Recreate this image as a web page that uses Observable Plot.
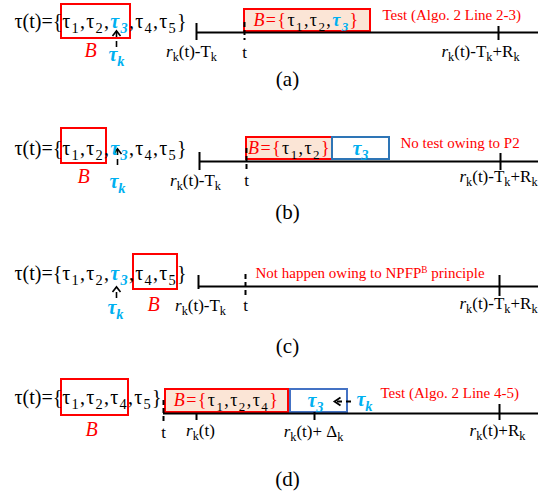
<!DOCTYPE html>
<html><head><meta charset="utf-8">
<script src="https://cdn.jsdelivr.net/npm/d3@7"></script>
<script src="https://cdn.jsdelivr.net/npm/@observablehq/plot@0.6"></script>
<style>body{margin:0;background:#fff}</style>
</head><body><div id="chart"></div>
<script>
// ---- content (markup: _x subscript, ^x superscript, [[style:...]] styled run)
const panelLabels = ["(a)", "(b)", "(c)", "(d)"];
const taskSets = [
  "τ(t)={[[sp:τ_1,τ_2,[[blue:τ_3]],τ_4,τ_5}]]",
  "τ(t)={[[sp:τ_1,τ_2,[[blue:τ_3]],τ_4,τ_5}]]",
  "τ(t)={[[sp:τ_1,τ_2,[[blue:τ_3]],τ_4,τ_5}]]",
  "τ(t)={[[sp:τ_1,τ_2,τ_4,τ_5}]]"
];
const batchSets = [
  "[[sp2:[[redi:B]][[red:={]]τ_1,τ_2,[[blue:τ_3]][[red:}]]]]",
  "[[sp2:[[redi:B]][[red:={]]τ_1,τ_2[[red:}]]]]",
  "[[sp2:[[redi:B]][[red:={]]τ_1,τ_2,τ_4[[red:}]]]]"
];
const notes = [
  "Test (Algo. 2 Line 2-3)",
  "No test owing to P2",
  "Not happen owing to NPFP^B principle",
  "Test (Algo. 2 Line 4-5)"
];
const timeLabels = [
  ["[[i:r]]_k(t)-T_k", "t", "[[i:r]]_k(t)-T_k+R_k"],
  ["[[i:r]]_k(t)-T_k", "t", "[[i:r]]_k(t)-T_k+R_k"],
  ["[[i:r]]_k(t)-T_k", "t", "[[i:r]]_k(t)-T_k+R_k"],
  ["t", "[[i:r]]_k(t)", "[[i:r]]_k(t)+ Δ_k", "[[i:r]]_k(t)+R_k"]
];
const setLabel = "[[redi:B]]";
const taskLabel = "[[blue:τ_k]]";
const waitingTask = "[[blue:τ_3]]";

// ---- layout (diagram units = pixels of the 549×498 figure)
const eqPos = [[14, 21], [14, 148], [14, 273], [14, 397]];
const eqBoxes = [[61, 130, 4, 38], [61, 106, 128, 163], [133, 177, 254, 289], [61, 128, 379, 415]];
const setLabelPos = [[90, 50], [83, 176], [153, 304], [91, 429]];
const timelines = [[196, 538, 32], [199, 538, 161], [198, 538, 286], [163, 538, 413]];
const solidTicks = [[196, 23, 40], [498, 26, 40], [199, 152, 170], [500, 153, 170],
  [198, 275, 289], [499, 275, 296], [196, 413, 420], [314, 412, 420], [499, 404, 420]];
const dashedTicks = [[244, 22, 40], [246, 148, 170], [245, 274, 297], [163, 400, 421]];
const timeLabelPos = [
  [[191, 51], [244, 52], [480, 51]],
  [[195, 180], [246, 180], [498, 176]],
  [[200, 305], [245, 305], [498, 303]],
  [[163, 432], [200, 430], [313, 431], [497, 430]]
];
const batchBoxes = [[244, 370, 9, 31], [246, 332, 137, 159], [165, 288, 389, 412]];
const batchTextPos = [[306, 20], [289, 148], [226, 400]];
const waitBoxes = [[332, 389, 137, 159, "#2e75b6"], [290, 347, 389, 412, "#4472c4"]];
const waitTextPos = [[360, 148], [315, 400]];
const notePos = [[382, 15], [400, 143], [255, 273], [380, 393]];
const panelLabelPos = [[287, 79], [287, 212], [287, 346], [287, 479]];
const upArrows = [[116, 47, 31], [117, 165, 149], [116, 298, 287]];
const taskLabelPos = [[116, 54], [117, 181], [115, 307], [364, 399]];
const leftArrow = [[351, 336, 401]];

const SERIF = "'Liberation Serif', 'Times New Roman', serif";
const RED = "#ff0000", SALMON = "#fbe5d6";

const rows = (labels, pos) => labels.map((t, i) => ({t, x: pos[i][0], y: pos[i][1]}));
const eqRows = rows(taskSets, eqPos);
const tlRows = timeLabels.flatMap((ls, p) => rows(ls, timeLabelPos[p]));
const boxRows = (bs) => bs.map(([x1, x2, y1, y2, c]) => ({x1, x2, y1, y2, c}));

const chevronUp = {draw(ctx, size) { const r = Math.sqrt(size / Math.PI);
  ctx.moveTo(-r, r * 0.65); ctx.lineTo(0, -r * 0.65); ctx.lineTo(r, r * 0.65); }};
const chevronLeft = {draw(ctx, size) { const r = Math.sqrt(size / Math.PI);
  ctx.moveTo(r * 0.75, -r); ctx.lineTo(-r * 0.75, 0); ctx.lineTo(r * 0.75, r); }};

const svg = Plot.plot({
  width: 549, height: 498, margin: 0,
  x: {domain: [0, 549], range: [0, 549], axis: null},
  y: {domain: [0, 498], range: [0, 498], axis: null},
  style: {background: "#fff", overflow: "visible"},
  marks: [
    Plot.rect(boxRows(batchBoxes), {x1: "x1", x2: "x2", y1: "y1", y2: "y2", fill: SALMON, stroke: RED, strokeWidth: 2}),
    Plot.rect(boxRows(waitBoxes), {x1: "x1", x2: "x2", y1: "y1", y2: "y2", fill: "#fff", stroke: d => d.c, strokeWidth: 2}),
    Plot.ruleY(timelines, {x1: d => d[0], x2: d => d[1], y: d => d[2], stroke: "#000", strokeWidth: 2}),
    Plot.ruleX(solidTicks, {x: d => d[0], y1: d => d[1], y2: d => d[2], stroke: "#000", strokeWidth: 2}),
    Plot.ruleX(dashedTicks, {x: d => d[0], y1: d => d[1], y2: d => d[2], stroke: "#000", strokeWidth: 2, strokeDasharray: "5,3"}),
    Plot.rect(boxRows(eqBoxes), {x1: "x1", x2: "x2", y1: "y1", y2: "y2", fill: "none", stroke: RED, strokeWidth: 2}),
    Plot.ruleX(upArrows, {x: d => d[0], y1: d => d[1], y2: d => d[2], stroke: "#000", strokeWidth: 1.6, strokeDasharray: "6,4"}),
    Plot.dot(upArrows, {x: d => d[0], y: d => d[2] + 2, r: 4, symbol: chevronUp, stroke: "#000", strokeWidth: 1.6, fill: "none"}),
    Plot.ruleY(leftArrow, {x1: d => d[0], x2: d => d[1], y: d => d[2], stroke: "#000", strokeWidth: 1.8, strokeDasharray: "5,4"}),
    Plot.dot(leftArrow, {x: d => d[1] + 1, y: d => d[2], r: 4, symbol: chevronLeft, stroke: "#000", strokeWidth: 1.8, fill: "none"}),
    Plot.text(eqRows, {x: "x", y: "y", text: "t", textAnchor: "start", fontSize: 20, fontFamily: SERIF, fill: "#000"}),
    Plot.text(rows(batchSets, batchTextPos), {x: "x", y: "y", text: "t", fontSize: 18, fontFamily: SERIF, fill: "#000"}),
    Plot.text(rows([waitingTask, waitingTask], waitTextPos), {x: "x", y: "y", text: "t", fontSize: 20, fontFamily: SERIF}),
    Plot.text(tlRows, {x: "x", y: "y", text: "t", fontSize: 17, fontFamily: SERIF, fill: "#000"}),
    Plot.text(rows(notes, notePos), {x: "x", y: "y", text: "t", textAnchor: "start", fontSize: 15, fontFamily: SERIF, fill: RED}),
    Plot.text(setLabelPos.map(([x, y]) => ({t: setLabel, x, y})), {x: "x", y: "y", text: "t", fontSize: 20, fontFamily: SERIF}),
    Plot.text(taskLabelPos.map(([x, y]) => ({t: taskLabel, x, y})), {x: "x", y: "y", text: "t", fontSize: 20, fontFamily: SERIF}),
    Plot.text(rows(panelLabels, panelLabelPos), {x: "x", y: "y", text: "t", fontSize: 21, fontFamily: SERIF, fill: "#000"})
  ]
});
document.getElementById("chart").appendChild(svg);

// ---- rich text: subscripts, superscripts, coloured runs
const styles = {
  blue: {fill: "#00b0f0", "font-weight": "bold", "font-style": "italic"},
  red: {fill: RED},
  redi: {fill: RED, "font-style": "italic"},
  i: {"font-style": "italic"},
  sp: {"letter-spacing": "1.25"},
  sp2: {"letter-spacing": "1.4"}
};
function parse(raw) {
  const out = [], stack = [];
  let i = 0, buf = "";
  const cur = () => Object.assign({}, ...stack.map(n => styles[n]));
  const flush = () => { if (buf) { out.push({t: buf, st: cur(), pos: null}); buf = ""; } };
  while (i < raw.length) {
    if (raw.startsWith("[[", i)) { flush(); const j = raw.indexOf(":", i); stack.push(raw.slice(i + 2, j)); i = j + 1; }
    else if (raw.startsWith("]]", i)) { flush(); stack.pop(); i += 2; }
    else if (raw[i] === "_" || raw[i] === "^") { flush(); out.push({t: raw[i + 1], st: cur(), pos: raw[i] === "_" ? "sub" : "sup"}); i += 2; }
    else { buf += raw[i]; i++; }
  }
  flush();
  return out;
}
const NS = "http://www.w3.org/2000/svg";
svg.querySelectorAll("text").forEach(el => {
  const raw = el.textContent;
  if (!/[_^]|\[\[/.test(raw)) return;
  const fs = parseFloat(getComputedStyle(el).fontSize) || 16;
  while (el.firstChild) el.removeChild(el.firstChild);
  let shift = 0;
  for (const seg of parse(raw)) {
    const ts = document.createElementNS(NS, "tspan");
    const target = seg.pos === "sub" ? 0.26 * fs : seg.pos === "sup" ? -0.36 * fs : 0;
    if (target !== shift) ts.setAttribute("dy", (target - shift).toFixed(2));
    shift = target;
    if (seg.pos) ts.setAttribute("font-size", (fs * (seg.pos === "sub" ? 0.72 : 0.62)).toFixed(2));
    for (const [k, v] of Object.entries(seg.st)) ts.setAttribute(k, v);
    ts.textContent = seg.t;
    el.appendChild(ts);
  }
});
</script>
</body></html>
